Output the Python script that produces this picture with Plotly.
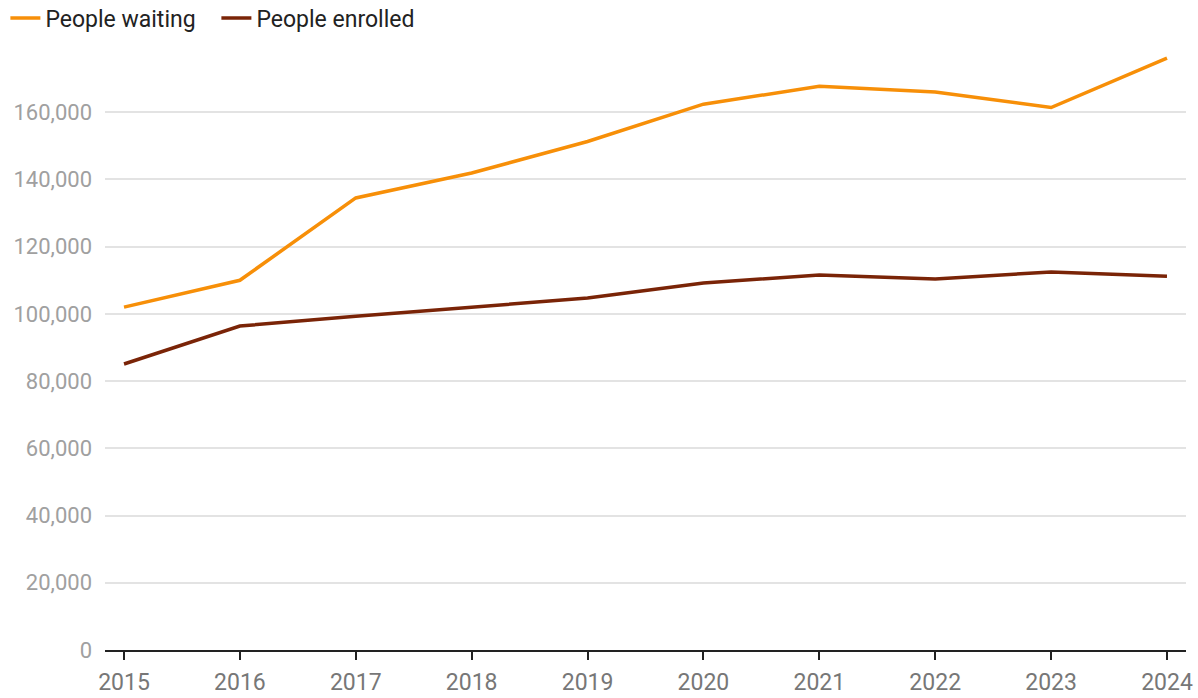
import plotly.graph_objects as go

years = [2015, 2016, 2017, 2018, 2019, 2020, 2021, 2022, 2023, 2024]
people_waiting = [102000, 110000, 134500, 141900, 151300, 162400, 167700, 166000, 161400, 176100]
people_enrolled = [85100, 96400, 99300, 102000, 104700, 109200, 111600, 110400, 112500, 111200]

fig = go.Figure()
fig.add_trace(go.Scatter(x=years, y=people_waiting, mode="lines", name="People waiting",
                         line=dict(color="#F78F08", width=3.5)))
fig.add_trace(go.Scatter(x=years, y=people_enrolled, mode="lines", name="People enrolled",
                         line=dict(color="#7A2407", width=3.5)))

fig.update_layout(
    width=1198, height=698,
    margin=dict(l=105, r=12, t=45, b=48, autoexpand=False),
    paper_bgcolor="white", plot_bgcolor="white",
    font=dict(family="Roboto", size=22, color="#333333"),
    legend=dict(orientation="h", xref="container", yref="container", x=0.0045, y=0.974,
                xanchor="left", yanchor="middle", font=dict(size=23, color="#222222"),
                itemwidth=30, tracegroupgap=0, entrywidth=166),
    showlegend=True,
)
fig.update_xaxes(range=[2014.836, 2024.164], tickmode="array", tickvals=years,
                 ticktext=[str(y) for y in years], showgrid=False, zeroline=False,
                 showline=True, linecolor="#222222", linewidth=2,
                 ticks="outside", ticklen=8, tickwidth=2, tickcolor="#222222",
                 ticklabelstandoff=2, automargin=False,
                 tickfont=dict(color="#777777", size=23))
fig.update_yaxes(range=[0, 180000], tickvals=[0, 20000, 40000, 60000, 80000, 100000, 120000, 140000, 160000],
                 tickformat=",d", showgrid=True, gridcolor="#e3e3e3", gridwidth=1.5,
                 zeroline=False, showline=False, ticks="", ticklabelstandoff=12, automargin=False,
                 tickfont=dict(color="#a0a0a0", size=22))

fig.write_html("out.html")
